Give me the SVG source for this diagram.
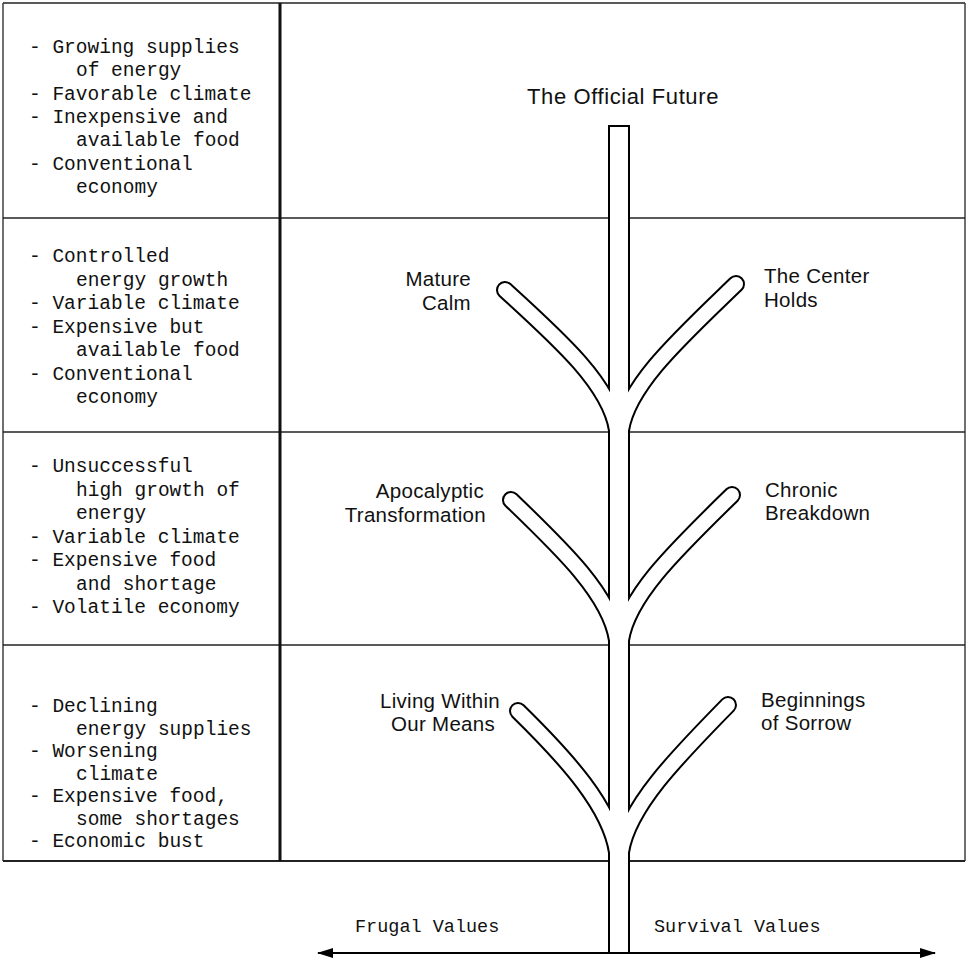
<svg xmlns="http://www.w3.org/2000/svg" width="968" height="965" viewBox="0 0 968 965">
<style>
.grid{stroke:#222;stroke-width:1.3;fill:none}
.thick{stroke:#111;stroke-width:3;fill:none}
.mono{font-family:"Liberation Mono","Courier New",monospace;font-size:19.5px;fill:#111}
.lbl{font-family:"Liberation Sans",Arial,sans-serif;font-size:20.5px;letter-spacing:0.3px;fill:#111}
.bb{stroke:#000;fill:none;stroke-width:18;stroke-linecap:round;stroke-linejoin:round}
.bw{stroke:#fff;fill:none;stroke-width:14;stroke-linecap:round;stroke-linejoin:round}
.sb{stroke:#000;stroke-width:22;fill:none}
.sw{stroke:#fff;stroke-width:18;fill:none}
.arr{stroke:#000;stroke-width:2;fill:none}
</style>
<defs>
<path id="b2l" d="M505 290 C560 340 610 385 617 430 L617 450"/>
<path id="b2r" d="M736 284 C680 338 628 385 621 430 L621 450"/>
<path id="b3l" d="M511 500 C563 550 610 595 617 640 L617 660"/>
<path id="b3r" d="M732 495 C678 548 628 595 621 640 L621 660"/>
<path id="b4l" d="M518 711 C568 760 610 807 617 852 L617 870"/>
<path id="b4r" d="M728 705 C676 758 628 807 621 852 L621 870"/>
<marker id="ah" viewBox="0 0 16 10" refX="15" refY="5" markerWidth="16" markerHeight="10" markerUnits="userSpaceOnUse" orient="auto-start-reverse">
<path d="M0 0 L16 5 L0 10 Z" fill="#000"/>
</marker>
</defs>
<rect width="968" height="965" fill="#fff"/>
<g id="table">
<line class="grid" x1="3" y1="3" x2="965" y2="3"/>
<line class="grid" x1="3" y1="3" x2="3" y2="861"/>
<line class="grid" x1="965" y1="3" x2="965" y2="861"/>
<line class="grid" x1="3" y1="218" x2="965" y2="218"/>
<line class="grid" x1="3" y1="432" x2="965" y2="432"/>
<line class="grid" x1="3" y1="645" x2="965" y2="645"/>
<line class="grid" x1="3" y1="861" x2="965" y2="861" style="stroke-width:2"/>
<line class="thick" x1="280" y1="3" x2="280" y2="861"/>
</g>
<g id="connectors">
<path class="sb" d="M619 125 V953"/>
<use href="#b2l" class="bb"/><use href="#b2r" class="bb"/>
<use href="#b3l" class="bb"/><use href="#b3r" class="bb"/>
<use href="#b4l" class="bb"/><use href="#b4r" class="bb"/>
<path class="sw" d="M619 127 V952"/>
<use href="#b2l" class="bw"/><use href="#b2r" class="bw"/>
<use href="#b3l" class="bw"/><use href="#b3r" class="bw"/>
<use href="#b4l" class="bw"/><use href="#b4r" class="bw"/>
<line class="arr" x1="318" y1="953" x2="935" y2="953" marker-start="url(#ah)" marker-end="url(#ah)"/>
</g>
<g id="cond-1" class="mono">
<text x="29" y="53">- Growing supplies</text>
<text x="76" y="76">of energy</text>
<text x="29" y="99.5">- Favorable climate</text>
<text x="29" y="123">- Inexpensive and</text>
<text x="76" y="146">available food</text>
<text x="29" y="169.5">- Conventional</text>
<text x="76" y="193">economy</text>
</g>
<g id="cond-2" class="mono">
<text x="29" y="262">- Controlled</text>
<text x="76" y="285.5">energy growth</text>
<text x="29" y="309">- Variable climate</text>
<text x="29" y="332.5">- Expensive but</text>
<text x="76" y="356">available food</text>
<text x="29" y="379.5">- Conventional</text>
<text x="76" y="403">economy</text>
</g>
<g id="cond-3" class="mono">
<text x="29" y="472">- Unsuccessful</text>
<text x="76" y="495.5">high growth of</text>
<text x="76" y="519">energy</text>
<text x="29" y="542.5">- Variable climate</text>
<text x="29" y="566">- Expensive food</text>
<text x="76" y="589.5">and shortage</text>
<text x="29" y="613">- Volatile economy</text>
</g>
<g id="cond-4" class="mono">
<text x="29" y="712">- Declining</text>
<text x="76" y="734.5">energy supplies</text>
<text x="29" y="757">- Worsening</text>
<text x="76" y="779.5">climate</text>
<text x="29" y="802">- Expensive food,</text>
<text x="76" y="824.5">some shortages</text>
<text x="29" y="847">- Economic bust</text>
</g>
<g id="official-future" class="lbl" style="font-size:22px;letter-spacing:0.6px"><text x="623" y="104" text-anchor="middle">The Official Future</text></g>
<g id="mature-calm" class="lbl" text-anchor="end"><text x="471" y="286">Mature</text><text x="471" y="310">Calm</text></g>
<g id="center-holds" class="lbl"><text x="764" y="283">The Center</text><text x="764" y="307">Holds</text></g>
<g id="apocalyptic" class="lbl" text-anchor="end"><text x="484" y="498">Apocalyptic</text><text x="486" y="522">Transformation</text></g>
<g id="chronic" class="lbl"><text x="765" y="497">Chronic</text><text x="765" y="520">Breakdown</text></g>
<g id="living" class="lbl" text-anchor="middle"><text x="440" y="708">Living Within</text><text x="443" y="731">Our Means</text></g>
<g id="beginnings" class="lbl"><text x="761" y="707">Beginnings</text><text x="761" y="730">of Sorrow</text></g>
<g id="values" class="mono" style="font-size:18.5px">
<text x="355" y="932">Frugal Values</text>
<text x="654" y="932">Survival Values</text>
</g>
</svg>
